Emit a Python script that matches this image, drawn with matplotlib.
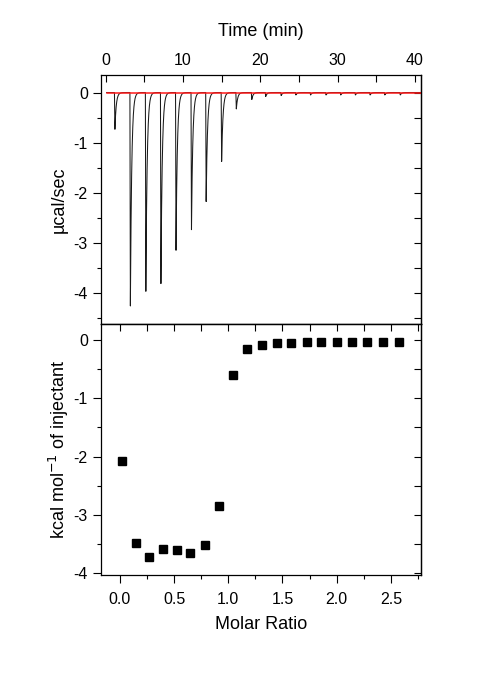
import numpy as np
import matplotlib.pyplot as plt
from matplotlib.ticker import MultipleLocator

plt.rcParams['font.family'] = ['Liberation Sans', 'DejaVu Sans']
plt.rcParams['axes.unicode_minus'] = False

# ---- Raw thermogram: injection times (min) and peak depths (ucal/sec)
inj_time = [1.2, 3.2, 5.2, 7.15, 9.1, 11.1, 13.0, 15.0, 16.9, 18.9,
            20.7, 22.7, 24.6, 26.5, 28.5, 30.4, 32.3, 34.2, 36.1, 38.1]
peak_depth = [-0.74, -4.29, -3.99, -3.85, -3.19, -2.77, -2.19, -1.39, -0.33, -0.14,
              -0.08, -0.06, -0.05, -0.05, -0.05, -0.05, -0.05, -0.05, -0.05, -0.05]

# ---- Integrated heats
molar_ratio = [0.021, 0.148, 0.269, 0.398, 0.525, 0.651, 0.781, 0.910, 1.043, 1.176,
               1.312, 1.447, 1.581, 1.722, 1.858, 2.0, 2.145, 2.284, 2.426, 2.574]
heat = [-2.07, -3.48, -3.72, -3.59, -3.61, -3.65, -3.51, -2.84, -0.61, -0.15,
        -0.09, -0.06, -0.05, -0.04, -0.035, -0.035, -0.035, -0.03, -0.03, -0.03]

# build the trace from the peaks: steep drop, exponential recovery
t = np.linspace(0.13, 40.8, 12000)
trace = np.zeros_like(t)
for t0, d in zip(inj_time, peak_depth):
    fall = 0.06
    tau = 0.17
    down = (t >= t0 - fall) & (t < t0)
    trace[down] += d * (t[down] - (t0 - fall)) / fall
    up = t >= t0
    trace[up] += d * np.exp(-(t[up] - t0) / tau)

fig = plt.figure(figsize=(4.8, 6.8), dpi=100)
ax1 = fig.add_axes([0.2104, 0.5235, 0.667, 0.3662])
ax2 = fig.add_axes([0.2104, 0.1544, 0.667, 0.3691])

# ---- Top panel
ax1.plot(t, trace, color='#1a1a1a', lw=0.75, zorder=2)
ax1.plot([0.13, 40.8], [0, 0], color='#ff1a1a', lw=1.1, zorder=3)
ax1.set_xlim(-0.6, 40.8)
ax1.set_ylim(-4.63, 0.35)
ax1.xaxis.set_ticks_position('top')
ax1.xaxis.set_label_position('top')
ax1.set_xlabel('Time (min)', fontsize=13, labelpad=12)
ax1.set_ylabel('µcal/sec', fontsize=13, labelpad=4)
ax1.xaxis.set_major_locator(MultipleLocator(10))
ax1.xaxis.set_minor_locator(MultipleLocator(5))
ax1.yaxis.set_major_locator(MultipleLocator(1))
ax1.yaxis.set_minor_locator(MultipleLocator(0.5))
ax1.tick_params(axis='x', which='both', direction='in', top=True, bottom=False,
                labelsize=11.5, length=5, width=0.8, pad=5)
ax1.tick_params(axis='y', which='major', direction='out', left=True, right=False,
                labelsize=11.5, length=6, width=0.8)
ax1.tick_params(axis='y', which='minor', direction='out', left=True, right=False,
                length=3, width=0.8)

ax1r = ax1.secondary_yaxis('right')
ax1r.yaxis.set_major_locator(MultipleLocator(1))
ax1r.yaxis.set_minor_locator(MultipleLocator(0.5))
ax1r.tick_params(which='both', direction='in', length=5, width=0.8, labelright=False)

# ---- Bottom panel
ax2.plot(molar_ratio, heat, 's', color='black', ms=5.3, zorder=3)
ax2.set_xlim(-0.175, 2.78)
ax2.set_ylim(-4.03, 0.27)
ax2.set_xlabel('Molar Ratio', fontsize=13, labelpad=7)
ax2.set_ylabel('kcal mol$^{-1}$ of injectant', fontsize=13, labelpad=2)
ax2.xaxis.set_major_locator(MultipleLocator(0.5))
ax2.xaxis.set_minor_locator(MultipleLocator(0.25))
ax2.yaxis.set_major_locator(MultipleLocator(1))
ax2.yaxis.set_minor_locator(MultipleLocator(0.5))
ax2.xaxis.set_major_formatter('{x:.1f}')
ax2.tick_params(which='major', direction='out', labelsize=11.5, length=6, width=0.8)
ax2.tick_params(which='minor', direction='out', length=3, width=0.8)
ax2.tick_params(axis='x', pad=6)

ax2t = ax2.secondary_xaxis('top')
ax2t.xaxis.set_major_locator(MultipleLocator(0.5))
ax2t.xaxis.set_minor_locator(MultipleLocator(0.25))
ax2t.tick_params(which='both', direction='in', length=5, width=0.8, labeltop=False)
ax2r = ax2.secondary_yaxis('right')
ax2r.yaxis.set_major_locator(MultipleLocator(1))
ax2r.yaxis.set_minor_locator(MultipleLocator(0.5))
ax2r.tick_params(which='both', direction='in', length=5, width=0.8, labelright=False)

for ax in (ax1, ax2, ax1r, ax2t, ax2r):
    for s in ax.spines.values():
        s.set_linewidth(0.9)

fig.savefig('out.png', dpi=100)
